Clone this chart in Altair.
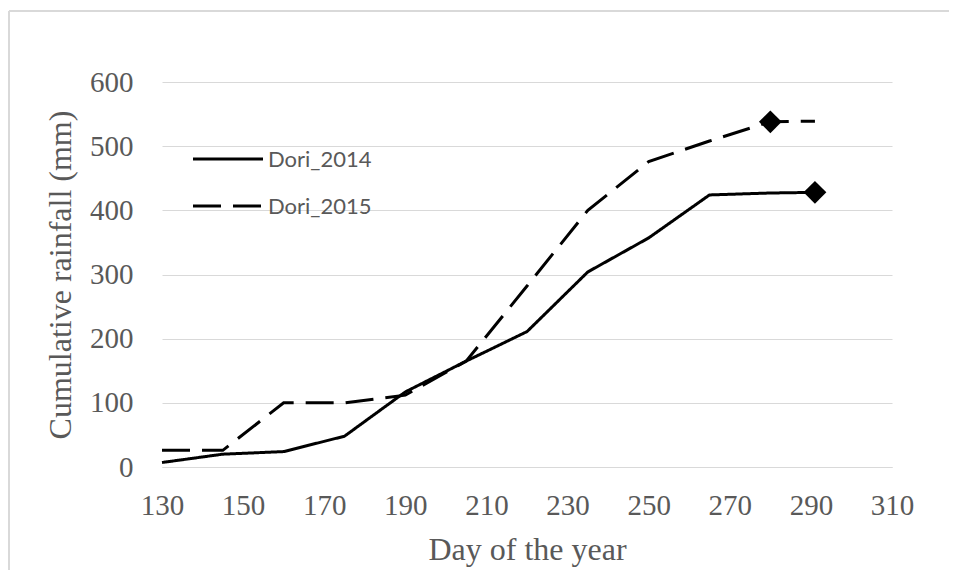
import altair as alt
import pandas as pd

days = [130, 145, 160, 175, 190, 205, 220, 235, 250, 265, 280, 291]
dori_2014 = [7, 20, 24, 48, 117, 165, 211, 304, 357, 424, 427, 428]
dori_2015 = [26, 26, 100, 100, 112, 165, 282, 400, 476, 508, 538, 539]
series_names = ["Dori_2014", "Dori_2015"]
marker_day = {"Dori_2014": 291, "Dori_2015": 280}
x_ticks = list(range(130, 311, 20))
y_ticks = list(range(0, 601, 100))

rows = []
for name, vals in zip(series_names, [dori_2014, dori_2015]):
    for d, v in zip(days, vals):
        rows.append({"day": d, "rain": v, "series": name})
df = pd.DataFrame(rows)
markers = df[df.apply(lambda r: marker_day[r["series"]] == r["day"], axis=1)]

GRID = "#d9d9d9"
TXT = "#595959"
SERIF = "Liberation Serif"

dash_scale = alt.Scale(domain=series_names, range=[[1, 0], [28, 12]])

x = alt.X("day:Q", scale=alt.Scale(domain=[130, 310], nice=False),
          axis=alt.Axis(values=x_ticks, title="Day of the year", grid=False,
                        ticks=False, domain=True, domainColor=GRID,
                        labelFlush=False, labelOverlap=False,
                        labelFont=SERIF, labelFontSize=29, labelColor=TXT,
                        labelPadding=24, titleFont=SERIF, titleFontSize=32,
                        titleFontWeight="normal", titleColor=TXT, titlePadding=14))
y = alt.Y("rain:Q", scale=alt.Scale(domain=[0, 600], nice=False),
          axis=alt.Axis(values=y_ticks, title="Cumulative rainfall (mm)", grid=True,
                        gridColor=GRID, gridWidth=1, ticks=False, domain=False,
                        labelFont=SERIF, labelFontSize=29, labelColor=TXT,
                        labelPadding=29, titleFont=SERIF, titleFontSize=32,
                        titleFontWeight="normal", titleColor=TXT, titlePadding=12))

lines = alt.Chart(df).mark_line(color="black", strokeWidth=3).encode(
    x=x, y=y,
    strokeDash=alt.StrokeDash("series:N", scale=dash_scale, legend=None),
    detail="series:N",
)

pts = alt.Chart(markers).mark_point(shape="diamond", filled=True, color="black",
                                     size=520, opacity=1).encode(
    x="day:Q", y="rain:Q")

one_row = pd.DataFrame({"a": [0]})
frame_top = alt.Chart(one_row).mark_rule(color=GRID, strokeWidth=2).encode(
    x=alt.value(-153), x2=alt.value(800), y=alt.value(-71))
frame_left = alt.Chart(one_row).mark_rule(color=GRID, strokeWidth=2).encode(
    x=alt.value(-153), y=alt.value(-71), y2=alt.value(520))

legend_layers = []
leg_y = [77, 124]
dashes = [[1, 0], [28, 12]]
for name, yy, dsh in zip(series_names, leg_y, dashes):
    one = pd.DataFrame({"series": [name]})
    legend_layers.append(
        alt.Chart(one).mark_rule(color="black", strokeWidth=3, strokeDash=dsh).encode(
            x=alt.value(31), x2=alt.value(101), y=alt.value(yy)))
    legend_layers.append(
        alt.Chart(one).mark_text(align="left", baseline="middle", font="Lato",
                                 fontSize=22, color=TXT).encode(
            x=alt.value(106), y=alt.value(yy + 1), text="series:N"))

chart = alt.layer(frame_top, frame_left, lines, pts, *legend_layers).properties(
    width=730, height=385,
    autosize=alt.AutoSizeParams(type="none"),
    padding={"left": 154, "top": 74, "right": 57, "bottom": 103},
).configure_view(stroke=None)

chart.save("out.html", embed_options={"renderer": "svg", "actions": False})
